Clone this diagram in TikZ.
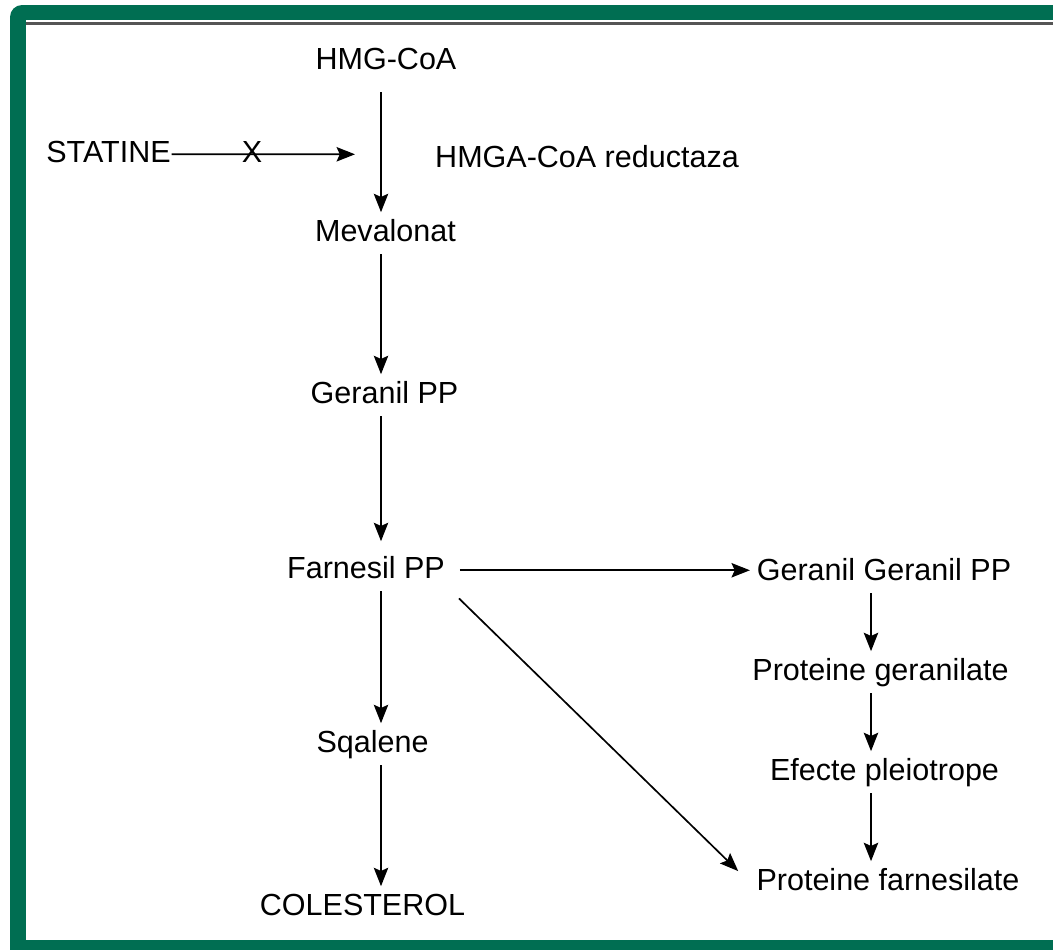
\documentclass[tikz,border=0pt]{standalone}
\usepackage{fontspec}
\setmainfont{Liberation Sans}
\usetikzlibrary{arrows.meta}
\definecolor{framegreen}{RGB}{0,110,82}
\definecolor{rulegray}{RGB}{85,85,85}

\begin{document}
\begin{tikzpicture}[->,>={Stealth[length=0.46cm,width=0.36cm,inset=0.08cm]},x=0.025cm,y=-0.025cm,line width=0.042cm]
              \tikzstyle{every node}=[font=\fontsize{21.7}{26}\selectfont,anchor=base,text height=15.6pt,text depth=4.6pt,inner sep=4.3pt];
              \tikzstyle{thick arrow}=[line width=0.052cm];
                \useasboundingbox (0,0) rectangle (1053,949);
                \clip (0,0) rectangle (1053,949);

                % frame
                \path[-,fill=framegreen,rounded corners=0.3cm] (10,5) rectangle (1090,990);
                \path[-,fill=white] (26,20) rectangle (1090,940);
                \path[-,draw=rulegray,line width=0.065cm] (26,23.5) -- (1090,23.5);

                \path (386,69)   node (hmg) {HMG-CoA};
                \path (108.5,162) node (stat) {STATINE};
                \path (587,167)  node (red) {HMGA-CoA reductaza};
                \path (385.5,241) node (mev) {Mevalonat};
                \path (384.5,403) node (ger) {Geranil PP};
                \path (366,578)  node (fpp) {Farnesil PP};
                \path (372.5,752) node (sq) {Sqalene};
                \path (362.5,915) node (col) {COLESTEROL};
                \path (884,580)  node (ggpp) {Geranil Geranil PP};
                \path (880.5,680) node (pger) {Proteine geranilate};
                \path (884.5,780) node (eff) {Efecte pleiotrope};
                \path (888,890)  node (pfarn) {Proteine farnesilate};

                \coordinate (ax) at (381,0);
                \coordinate (bx) at (871,0);
                \coordinate (sarr) at (355,154.3);

                \path[->,draw,shorten <=0.25cm] (hmg.south -| ax) -- (mev.north -| ax);
                \path[->,draw] (mev.south -| ax) -- (ger.north -| ax);
                \path[->,draw,shorten >=0.2cm] (ger.south -| ax) -- (fpp.north -| ax);
                \path[->,draw] (fpp.south -| ax) -- (sq.north -| ax);
                \path[->,draw] (sq.south -| ax) -- (col.north -| ax);

                \path[->,draw,shorten <=-0.15cm] (stat.east) -- node[pos=0.42,anchor=center] (x) {X} (sarr);

                \path[->,draw,shorten <=0.2cm] (fpp.east) -- (fpp.east -| ggpp.west);
                \path[->,draw,shorten <=0.25cm,shorten >=0.4cm] (fpp.south east) -- (pfarn.west);

                \path[->,draw,thick arrow] (ggpp.south -| bx) -- (pger.north -| bx);
                \path[->,draw,thick arrow] (pger.south -| bx) -- (eff.north -| bx);
                \path[->,draw,thick arrow] (eff.south -| bx) -- (pfarn.north -| bx);
            \end{tikzpicture}
\end{document}
